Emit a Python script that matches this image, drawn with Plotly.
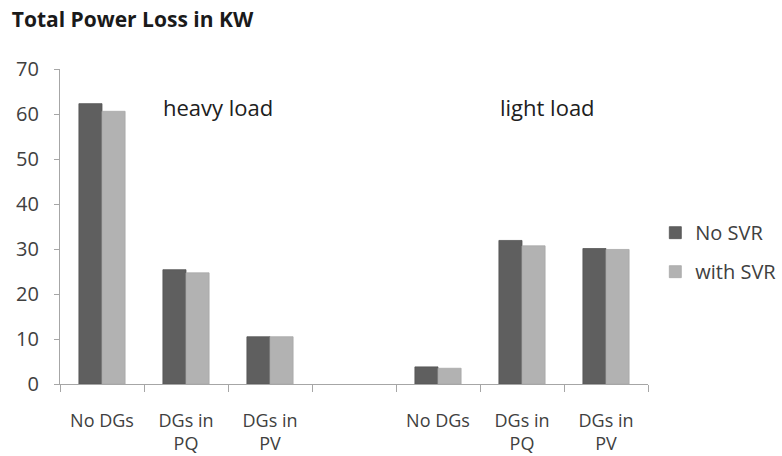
import plotly.graph_objects as go

categories = ["No DGs", "DGs in<br>PQ", "DGs in<br>PV", "", "No DGs", "DGs in<br>PQ", "DGs in<br>PV"]
no_svr = [62.3, 25.4, 10.5, None, 3.8, 31.9, 30.1]
with_svr = [60.6, 24.7, 10.5, None, 3.5, 30.7, 29.9]
y_ticks = [0, 10, 20, 30, 40, 50, 60, 70]
group_labels = ["heavy load", "light load"]

xpos = list(range(len(categories)))
FONT = "Open Sans, Noto Sans, sans-serif"
TXT = "#404040"

fig = go.Figure()
fig.add_trace(go.Bar(x=xpos, y=no_svr, name="No SVR", legendgroup="a",
                     marker=dict(color="#5f5f5f", line=dict(color="#555555", width=0.8))))
fig.add_trace(go.Bar(x=xpos, y=with_svr, name="with SVR", legendgroup="b",
                     marker=dict(color="#b2b2b2", line=dict(color="#a8a8a8", width=0.8))))

fig.add_annotation(x=1.38, y=61.5, text=group_labels[0], showarrow=False, xref="x", yref="y",
                   font=dict(family=FONT, size=22, color="#202020"))
fig.add_annotation(x=5.3, y=61.5, text=group_labels[1], showarrow=False, xref="x", yref="y",
                   font=dict(family=FONT, size=22, color="#202020"))

fig.update_layout(
    width=782, height=456,
    margin=dict(l=60, r=134, t=69, b=72, autoexpand=False),
    paper_bgcolor="white", plot_bgcolor="white",
    barmode="group", bargap=0.45, bargroupgap=0,
    title=dict(text="<b>Total Power Loss in KW</b>", x=0.015, xanchor="left", y=0.956, yanchor="middle",
               font=dict(family=FONT, size=21, color="#1a1a1a")),
    legend=dict(xref="container", yref="container", x=0.838, xanchor="left", y=0.447, yanchor="middle",
                font=dict(family=FONT, size=20, color=TXT), tracegroupgap=10,
                traceorder="grouped"),
    showlegend=True,
)
fig.update_xaxes(
    range=[-0.5, 6.5], tickmode="array", tickvals=xpos, ticktext=categories,
    ticks="", showgrid=False, zeroline=False, automargin=False,
    showline=True, linecolor="#a6a6a6", linewidth=1.2,
    tickfont=dict(family=FONT, size=18, color=TXT), ticklabelstandoff=20,
    minor=dict(tick0=-0.5, dtick=1, ticks="outside", ticklen=7, tickcolor="#a6a6a6", tickwidth=1.2, showgrid=False),
)
fig.update_yaxes(
    range=[0, 70], tickmode="array", tickvals=y_ticks,
    ticks="outside", ticklen=5, tickcolor="#a6a6a6", tickwidth=1.2,
    showgrid=False, zeroline=False, automargin=False,
    showline=True, linecolor="#a6a6a6", linewidth=1.2,
    tickfont=dict(family=FONT, size=20, color=TXT), ticklabelstandoff=11,
)

fig.write_html("out.html")
